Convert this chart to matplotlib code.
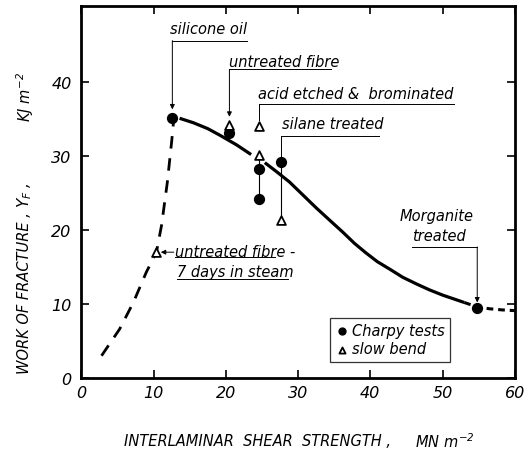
import matplotlib
matplotlib.use("Agg")
import matplotlib.pyplot as plt
import numpy as np
from matplotlib import font_manager

names = {f.name for f in font_manager.fontManager.ttflist}
FAM = ['Liberation Sans Narrow'] if 'Liberation Sans Narrow' in names else ['DejaVu Sans']
plt.rcParams['font.family'] = FAM + ['DejaVu Sans']
plt.rcParams['mathtext.fontset'] = 'custom'
plt.rcParams['mathtext.it'] = FAM[0] + ':italic'
plt.rcParams['mathtext.rm'] = FAM[0] + ':italic'

# --- data ---
charpy_x = [12.6, 20.5, 24.6, 24.6, 27.7, 54.8]
charpy_y = [35.1, 33.1, 28.2, 24.2, 29.2, 9.5]
bend_x = [20.5, 24.6, 24.6, 27.7, 10.3]
bend_y = [34.2, 34.0, 30.2, 21.3, 17.0]

solid1_x = [13.6, 15.5, 17.5, 19.2, 21.5, 23.5]
solid1_y = [35.1, 34.5, 33.7, 32.8, 31.5, 30.2]
solid2_x = [25.4, 27.0, 28.8, 30.6, 32.5, 34.4, 36.2, 37.8, 39.4, 41.0, 42.7, 44.5, 46.4, 48.2, 50.0, 51.5, 53.0]
solid2_y = [29.1, 27.9, 26.5, 24.8, 23.0, 21.3, 19.7, 18.2, 16.9, 15.7, 14.7, 13.6, 12.7, 11.9, 11.2, 10.7, 10.2]
dash_right_x = [53.0, 54.8, 56.5, 58.2, 60.0]
dash_right_y = [10.2, 9.6, 9.35, 9.2, 9.1]
dash_left_x = [2.8, 5.3, 7.2, 9.0, 10.4, 11.1, 11.9, 12.5, 12.8]
dash_left_y = [3.0, 6.6, 10.2, 14.3, 17.0, 20.6, 26.4, 31.9, 35.0]

xticks = [0, 10, 20, 30, 40, 50, 60]
yticks = [0, 10, 20, 30, 40]

fig = plt.figure(figsize=(5.28, 4.56), dpi=100)
ax = fig.add_axes([0.154, 0.169, 0.821, 0.816])
ax.set_xlim(0, 60)
ax.set_ylim(0, 50.3)

TXT = dict(style='italic', fontsize=10.5, color='black')

ax.plot(solid1_x, solid1_y, color='black', lw=2.3, solid_capstyle='butt')
ax.plot(solid2_x, solid2_y, color='black', lw=2.3, solid_capstyle='butt')
ax.plot(dash_right_x, dash_right_y, color='black', lw=2.2, dashes=(2.2, 1.6))
ax.plot(dash_left_x, dash_left_y, color='black', lw=2.0, dashes=(4.5, 3.5))

# vertical connector lines
ax.plot([24.6, 24.6], [30.2, 24.2], color='black', lw=0.8, zorder=1)
ax.plot([27.7, 27.7], [29.2, 21.3], color='black', lw=0.8, zorder=1)

ax.scatter(charpy_x, charpy_y, s=50, color='black', zorder=5, label='Charpy tests')
ax.scatter(bend_x, bend_y, s=40, marker='^', facecolor='white', edgecolor='black',
           linewidths=1.3, zorder=6, label='slow bend')

def leader(x0, x1, yline, ytgt, arrow=True):
    ax.plot([x0, x1], [yline, yline], color='black', lw=0.7)
    if arrow:
        ax.annotate('', xy=(x0, ytgt), xytext=(x0, yline),
                    arrowprops=dict(arrowstyle='-|>', color='black', lw=0.7,
                                    mutation_scale=7, shrinkA=0, shrinkB=0))
    else:
        ax.plot([x0, x0], [yline, ytgt], color='black', lw=0.7)

# silicone oil
ax.text(12.3, 47.3, 'silicone oil', ha='left', va='center', **TXT)
leader(12.6, 23.0, 45.6, 36.3)
# untreated fibre
ax.text(20.4, 42.8, 'untreated fibre', ha='left', va='center', **TXT)
leader(20.5, 34.5, 41.7, 35.3)
# acid etched
ax.text(24.4, 38.5, 'acid etched &  brominated', ha='left', va='center', **TXT)
leader(24.6, 51.6, 37.0, 34.9, arrow=False)
# silane treated
ax.text(27.8, 34.4, 'silane treated', ha='left', va='center', **TXT)
leader(27.7, 41.2, 32.7, 29.6, arrow=False)
# Morganite
ax.text(44.0, 22.0, 'Morganite', ha='left', va='center', **TXT)
ax.text(45.8, 19.2, 'treated', ha='left', va='center', **TXT)
ax.plot([45.8, 54.8], [17.7, 17.7], color='black', lw=0.7)
ax.annotate('', xy=(54.8, 10.2), xytext=(54.8, 17.7),
            arrowprops=dict(arrowstyle='-|>', color='black', lw=0.7,
                            mutation_scale=7, shrinkA=0, shrinkB=0))
# untreated fibre - 7 days in steam
ax.text(12.9, 17.1, 'untreated fibre -', ha='left', va='center', **TXT)
ax.plot([12.9, 26.8], [16.3, 16.3], color='black', lw=0.7)
ax.annotate('', xy=(11.0, 17.0), xytext=(12.8, 17.0),
            arrowprops=dict(arrowstyle='-|>', color='black', lw=0.7,
                            mutation_scale=7, shrinkA=0, shrinkB=0))
ax.text(13.2, 14.4, '7 days in steam', ha='left', va='center', **TXT)
ax.plot([13.2, 28.6], [13.4, 13.4], color='black', lw=0.7)

leg = ax.legend(loc='upper left', bbox_to_anchor=(0.573, 0.162), frameon=True,
                fancybox=False, edgecolor='black', handletextpad=0.2,
                handlelength=1.0, borderpad=0.35, labelspacing=0.25, borderaxespad=0,
                markerscale=0.7, prop=dict(family=FAM + ['DejaVu Sans'], style='italic', size=10.5))
leg.get_frame().set_linewidth(0.9)

ax.set_xticks(xticks)
ax.set_yticks(yticks)
for lab in ax.get_xticklabels() + ax.get_yticklabels():
    lab.set_fontstyle('italic')
    lab.set_fontsize(11.5)
ax.tick_params(direction='in', length=6, width=1.2, top=True, right=True,
               labeltop=False, labelright=False)
ax.tick_params(axis='x', pad=5)
ax.tick_params(axis='y', pad=7)
for s in ax.spines.values():
    s.set_linewidth(2.0)

W, H = 528.0, 456.0
# x axis label (two parts)
fig.text(258 / W, 1 - 442 / H, 'INTERLAMINAR  SHEAR  STRENGTH ,', style='italic',
         fontsize=10.5, ha='center', va='center')
fig.text(445 / W, 1 - 442 / H, r'MN $m^{-2}$', style='italic',
         fontsize=10.5, ha='center', va='center')
# y axis label (three parts)
fig.text(25 / W, 1 - 293 / H, 'WORK OF FRACTURE ,', style='italic', rotation=90,
         fontsize=10.5, ha='center', va='center')
fig.text(25 / W, 1 - 195 / H, r'$Y_F$ ,', style='italic', rotation=90,
         fontsize=11, ha='center', va='center')
fig.text(25 / W, 1 - 97 / H, r'KJ $m^{-2}$', style='italic', rotation=90,
         fontsize=10.5, ha='center', va='center')

fig.savefig('out.png', dpi=100)
